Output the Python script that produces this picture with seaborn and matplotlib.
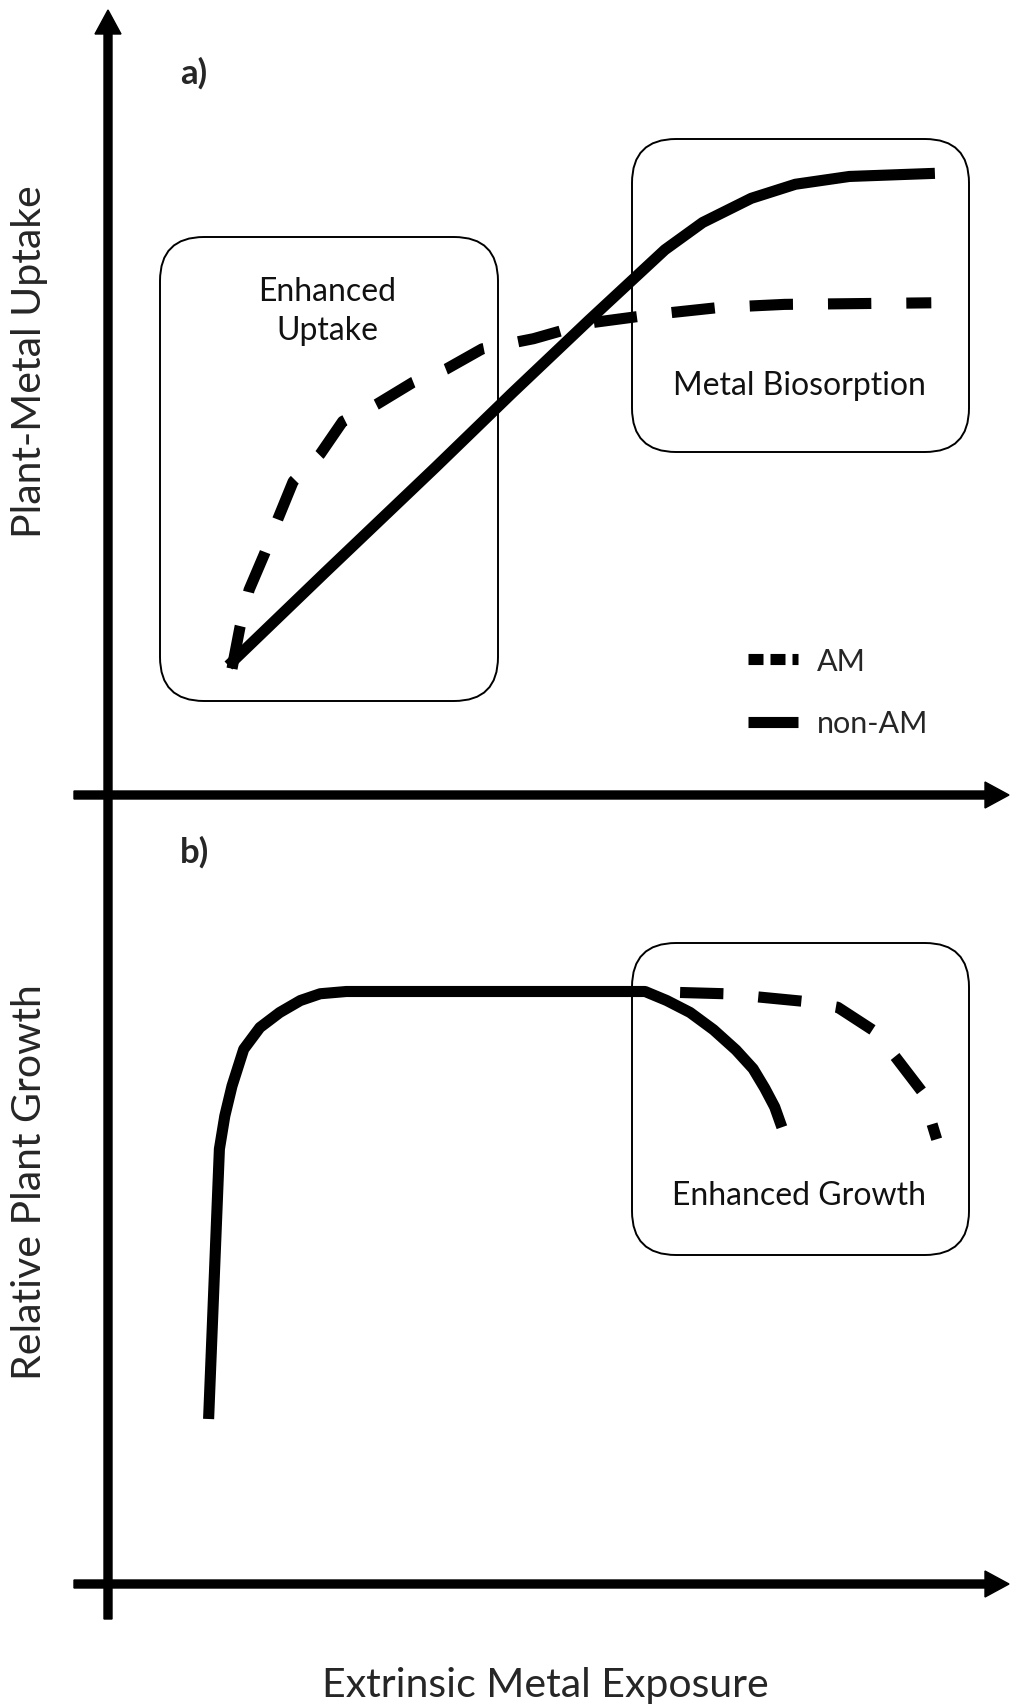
import matplotlib.pyplot as plt
import matplotlib.patches as mpatches
from matplotlib.lines import Line2D
import pandas as pd
import seaborn as sns

sns.set_style("white")
plt.rcParams['font.family'] = ['Lato', 'DejaVu Sans']

# ------------------------------------------------------------------
# curves (x: 0-100 along exposure arrow,
# y: 0-100 along each panel's vertical axis)
# ------------------------------------------------------------------
up_nonam_x = [13.6, 24.5, 36.6, 45.1, 53.6, 62.1, 66.3, 71.7, 76.6, 82.6, 92.1]
up_nonam_y = [16.6, 28.7, 42.0, 51.5, 60.8, 69.9, 73.4, 76.5, 78.3, 79.3, 79.7]
up_am_x = [14.0, 14.9, 15.9, 17.6, 19.1, 20.8, 23.8, 26.3, 30.1, 34.1, 37.8,
           41.8, 47.5, 53.6, 60.8, 68.1, 75.4, 91.7]
up_am_y = [16.2, 21.6, 26.3, 30.9, 35.4, 40.2, 43.7, 47.9, 50.1, 52.9, 54.6,
           57.2, 58.5, 60.5, 61.6, 62.5, 62.9, 63.1]

gr_nonam_x = [11.4, 12.6, 13.2, 14.0, 15.3, 17.1, 19.3, 21.6, 23.8, 26.7,
              59.9, 62.3, 64.9, 67.5, 70.0, 71.9, 73.2, 74.3, 75.1]
gr_nonam_y = [22.0, 58.0, 62.4, 66.4, 71.3, 74.2, 76.2, 77.8, 78.7, 79.0,
              79.0, 77.8, 76.2, 73.9, 71.2, 68.7, 66.1, 63.6, 60.9]
gr_am_x = [59.9, 68.8, 77.4, 81.3, 85.4, 87.7, 90.7, 92.3]
gr_am_y = [79.0, 78.7, 77.7, 76.9, 73.7, 70.3, 65.6, 59.3]

groups = ['AM', 'non-AM']
panel_labels = ['a)', 'b)']
y_titles = ['Plant-Metal Uptake', 'Relative Plant Growth']
x_title = 'Extrinsic Metal Exposure'


def long_df(am_x, am_y, non_x, non_y):
    a = pd.DataFrame({'exposure': am_x, 'value': am_y, 'type': 'AM'})
    b = pd.DataFrame({'exposure': non_x, 'value': non_y, 'type': 'non-AM'})
    return pd.concat([a, b], ignore_index=True)


df_up = long_df(up_am_x, up_am_y, up_nonam_x, up_nonam_y)
df_gr = long_df(gr_am_x, gr_am_y, gr_nonam_x, gr_nonam_y)

W, H = 1011, 1708
fig = plt.figure(figsize=(W / 100, H / 100), dpi=100)

# background axes in pixel units for arrows, boxes and text
bg = fig.add_axes([0, 0, 1, 1])
bg.set_xlim(0, W)
bg.set_ylim(H, 0)
bg.axis('off')


def panel(x0, x1, ytop, ybot):
    ax = fig.add_axes([x0 / W, 1 - ybot / H, (x1 - x0) / W, (ybot - ytop) / H])
    ax.set_xlim(0, 100)
    ax.set_ylim(0, 100)
    ax.axis('off')
    return ax


ax_a = panel(106, 1006, 16, 796)
ax_b = panel(106, 1006, 835, 1585)

dash = (3.9, 3.15)
for ax, df in [(ax_a, df_up), (ax_b, df_gr)]:
    sns.lineplot(data=df, x='exposure', y='value', hue='type', style='type',
                 palette={'AM': 'black', 'non-AM': 'black'},
                 dashes={'AM': dash, 'non-AM': ''},
                 linewidth=8, estimator=None, sort=False, legend=False, ax=ax)
    for ln in ax.lines:
        ln.set_solid_capstyle('butt')
        ln.set_dash_capstyle('butt')
        ln.set_solid_joinstyle('round')

# AM curve in b starts where it leaves the non-AM curve -> begin with a gap
for ln in ax_b.lines:
    if ln.get_linestyle() not in ('-', 'solid'):
        ln.set_linestyle((dash[0], dash))

# axes arrows
arrow_kw = dict(width=8, head_width=26, head_length=24,
                length_includes_head=True, color='black', zorder=3)
bg.arrow(108, 1620, 0, 11 - 1620, **arrow_kw)
bg.arrow(74, 796, 1009 - 74, 0, **arrow_kw)
bg.arrow(74, 1585, 1009 - 74, 0, **arrow_kw)

# rounded boxes
boxes = [(160, 238, 498, 702), (632, 140, 969, 453), (632, 944, 969, 1256)]
for x0, y0, x1, y1 in boxes:
    bg.add_patch(mpatches.FancyBboxPatch(
        (x0 + 44, y0 + 44), x1 - x0 - 88, y1 - y0 - 88,
        boxstyle='round,pad=44', fc='none', ec='black', lw=1.4))

txt = dict(ha='center', va='center', fontsize=23, color='#111111')
bg.text(327, 292, 'Enhanced', **txt)
bg.text(327, 331, 'Uptake', **txt)
bg.text(799, 386, 'Metal Biosorption', **txt)
bg.text(799, 1196, 'Enhanced Growth', **txt)

bg.text(194, 73, panel_labels[0], ha='center', va='center', fontsize=25, fontweight='bold')
bg.text(194, 852, panel_labels[1], ha='center', va='center', fontsize=25, fontweight='bold')

bg.text(30, 362, y_titles[0], rotation=90, ha='center', va='center', fontsize=29.5)
bg.text(30, 1182, y_titles[1], rotation=90, ha='center', va='center', fontsize=29.5)
bg.text(545, 1686, x_title, ha='center', va='center', fontsize=29.5)

handles = [Line2D([], [], color='black', lw=8, dashes=(1.35, 0.63), dash_capstyle='butt'),
           Line2D([], [], color='black', lw=8, solid_capstyle='butt')]
bg.legend(handles, groups, loc='upper left', bbox_to_anchor=(748, 648),
          bbox_transform=bg.transData, frameon=False, fontsize=22,
          handlelength=1.62, handletextpad=0.62, labelspacing=1.12,
          borderpad=0, borderaxespad=0)

plt.savefig('out.png', dpi=100)
